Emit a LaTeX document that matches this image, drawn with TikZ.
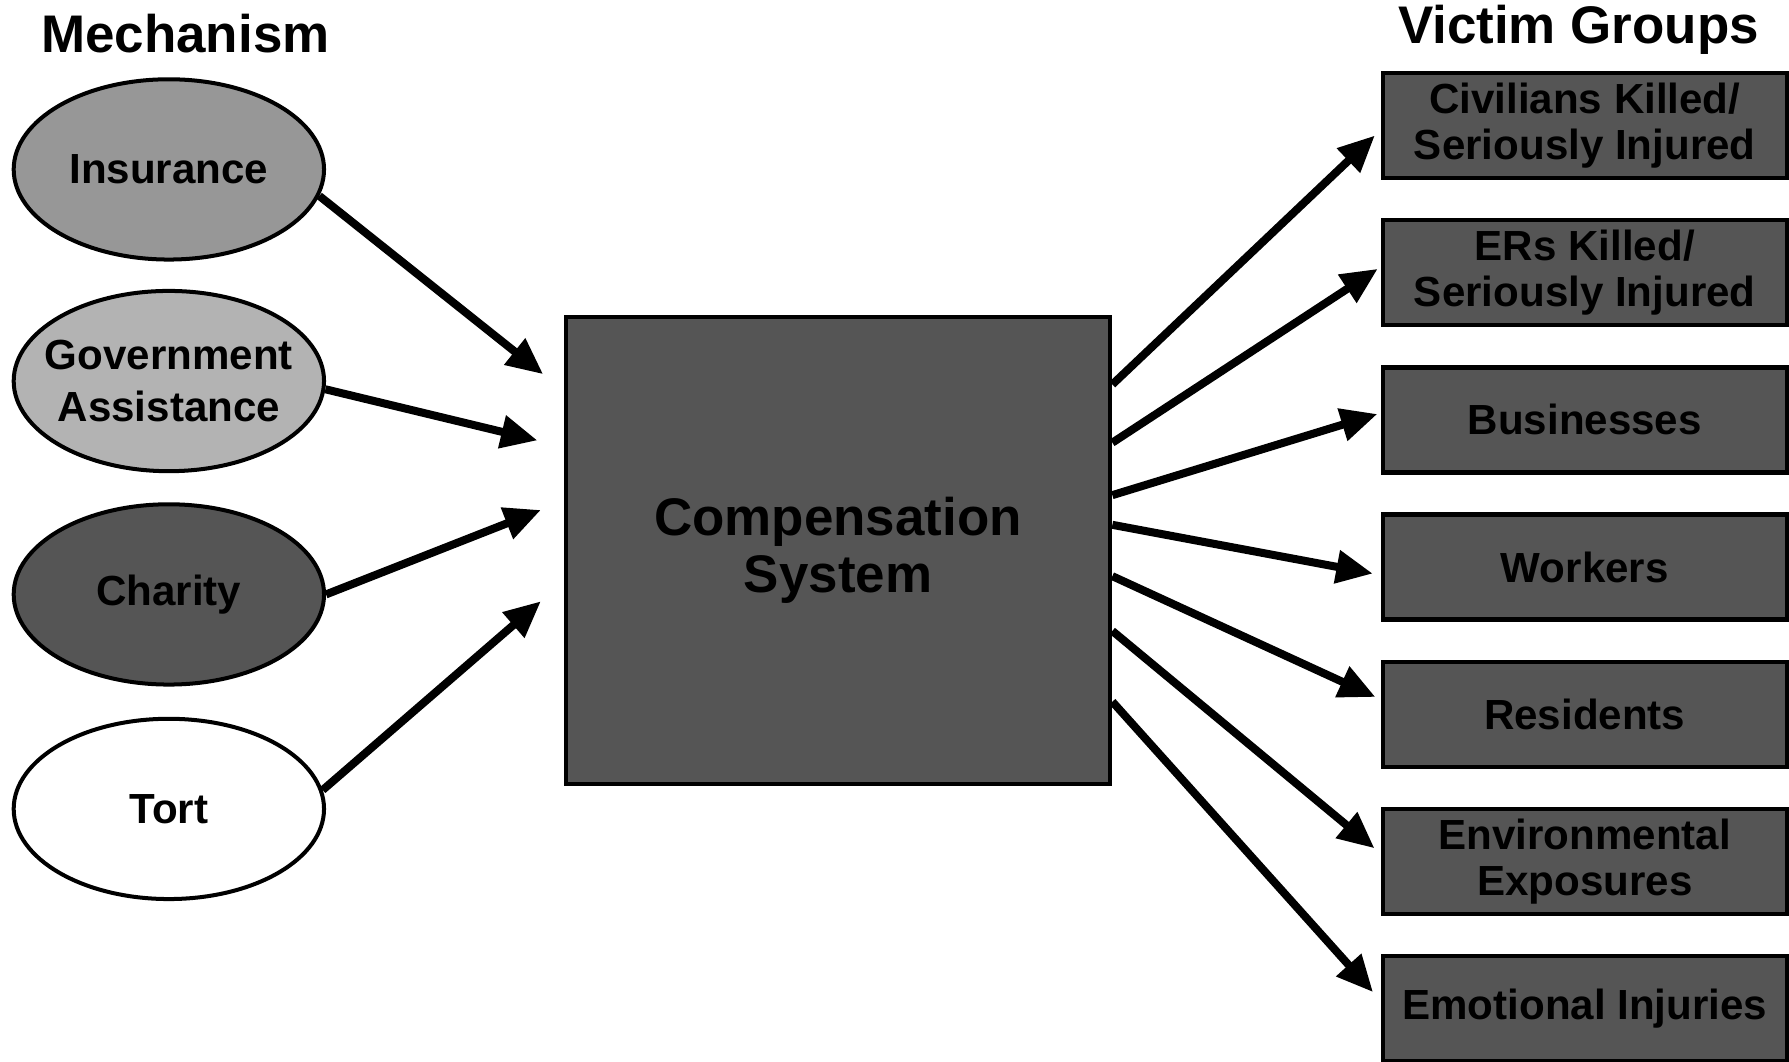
\documentclass[tikz,border=0pt]{standalone}
\usepackage{fontspec}
\setmainfont{Liberation Sans}
\usetikzlibrary{shapes.geometric,arrows.meta}

\definecolor{boxgray}{HTML}{555555}
\definecolor{insgray}{HTML}{979797}
\definecolor{govgray}{HTML}{B3B3B3}

\begin{document}
\begin{tikzpicture}[
    mech/.style={
        ellipse,
        draw=black,
        line width=1pt,
        minimum width=2.72cm,
        minimum height=1.58cm,
        inner sep=0pt,
        font=\fontsize{10.5}{12.8}\selectfont\bfseries,
        align=center
    },
    victim/.style={
        rectangle,
        draw=black,
        fill=boxgray,
        line width=1.1pt,
        minimum width=3.54cm,
        minimum height=0.92cm,
        inner sep=0pt,
        font=\fontsize{10.5}{11.4}\selectfont\bfseries,
        align=center
    },
    heading/.style={
        font=\fontsize{13.2}{14.2}\selectfont\bfseries,
        anchor=base
    },
    link/.style={
        -{Triangle[length=0.32cm,width=0.28cm]},
        line width=2pt
    }
]
\useasboundingbox (0,0) rectangle (15.68,9.30);

% Headings
\node[heading] (mechT) at (1.625,8.84) {Mechanism};
\node[heading] (victT) at (13.835,8.92) {Victim Groups};

% Mechanisms
\node[mech, fill=insgray] (ins) at (1.48,7.815) {Insurance};
\node[mech, fill=govgray, inner xsep=-0.15cm] (gov) at (1.48,5.96) {Government\\Assistance};
\node[mech, fill=boxgray] (cha) at (1.48,4.09) {Charity};
\node[mech, fill=white] (tort) at (1.48,2.21) {Tort};

% Compensation system
\node[rectangle, draw=black, fill=boxgray, line width=1.1pt,
      minimum width=4.77cm, minimum height=4.09cm, align=center,
      font=\fontsize{13.2}{14.2}\selectfont\bfseries] (comp) at (7.345,4.475)
      {Compensation\\System};

% Victim groups
\node[victim] (civ) at (13.89,8.20) {Civilians Killed/\\Seriously Injured};
\node[victim] (ers) at (13.89,6.91) {ERs Killed/\\Seriously Injured};
\node[victim] (bus) at (13.89,5.62) {Businesses};
\node[victim] (work) at (13.89,4.33) {Workers};
\node[victim] (res) at (13.89,3.04) {Residents};
\node[victim] (env) at (13.89,1.75) {Environmental\\Exposures};
\node[victim] (emo) at (13.89,0.46) {Emotional Injuries};

% Arrows in
\draw[link] (ins.-10) -- ([xshift=-0.18cm,yshift=1.545cm]comp.west);
\draw[link] (gov.-3) -- ([xshift=-0.23cm,yshift=0.965cm]comp.west);
\draw[link] (cha.0) -- ([xshift=-0.20cm,yshift=0.355cm]comp.west);
\draw[link] (tort.7) -- ([xshift=-0.20cm,yshift=-0.445cm]comp.west);

% Arrows out
\draw[link, shorten >=0.07cm] ([yshift=1.455cm]comp.east) -- ([yshift=-0.04cm]civ.west);
\draw[link, shorten >=0.03cm] ([yshift=0.945cm]comp.east) -- ([yshift=0.05cm]ers.west);
\draw[link, shorten >=0.03cm] ([yshift=0.485cm]comp.east) -- ([yshift=0.06cm]bus.west);
\draw[link, shorten >=0.07cm] ([yshift=0.225cm]comp.east) -- ([yshift=-0.07cm]work.west);
\draw[link, shorten >=0.05cm] ([yshift=-0.225cm]comp.east) -- ([yshift=0.13cm]res.west);
\draw[link, shorten >=0.07cm] ([yshift=-0.705cm]comp.east) -- ([yshift=0.07cm]env.west);
\draw[link, shorten >=0.10cm] ([yshift=-1.325cm]comp.east) -- ([yshift=0.07cm]emo.west);

\end{tikzpicture}
\end{document}
